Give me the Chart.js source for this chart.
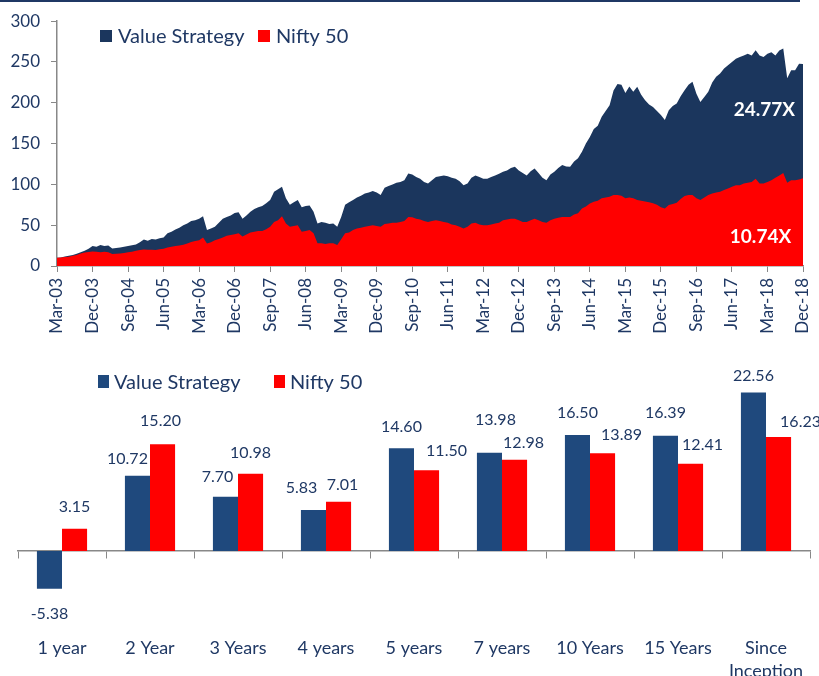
<!DOCTYPE html>
<html>
<head>
<meta charset="utf-8">
<script src="https://cdn.jsdelivr.net/npm/chart.js@4"></script>
<style>
  html, body { margin: 0; padding: 0; background: #fff; overflow: hidden; }
  #topRule { position: absolute; left: 0; top: 0; width: 800px; height: 2px; background: #1f3864; }
  #growthBox { position: absolute; left: 0; top: 0; width: 819px; height: 345px; }
  #returnsBox { position: absolute; left: 0; top: 345px; width: 819px; height: 345px; }
</style>
</head>
<body>
<div id="growthBox"><canvas id="growthChart"></canvas></div>
<div id="returnsBox"><canvas id="returnsChart"></canvas></div>
<div id="topRule"></div>
<script>
// growth of 10 invested, monthly, Mar-03 .. Dec-18
const vsGrowth = [
  10, 10.5, 11.5, 12.6, 13.5, 15, 17, 18.7, 21, 24.4,
  23.5, 25.6, 24.5, 25, 21.5, 22, 22.8, 23.5, 24.4, 25.5,
  26.4, 29, 32.5, 31, 33, 32.5, 34, 35, 40, 42,
  44.7, 47, 50, 52, 55.3, 56, 58, 61, 44, 46,
  48, 53, 58, 60, 62, 65, 66, 58, 62, 66.5,
  70, 72, 73.5, 77, 81, 91, 94, 97, 83, 75,
  78, 81, 72, 73.5, 74, 66.5, 52, 54, 53, 51.4,
  52, 48, 60, 75, 78, 81, 84, 86, 89, 90,
  92, 90, 87, 96, 98, 100, 102, 103, 105, 113.5,
  112, 109, 107, 103, 101, 105, 109, 110, 111, 110,
  108, 107, 104, 99, 101, 108, 111, 109, 107, 107,
  109, 111, 113, 115.5, 117, 120, 121.6, 117, 114, 111,
  116, 119.6, 114, 108, 105, 112, 115.5, 120, 123.7, 122,
  121.6, 128, 132, 140, 150, 158, 168, 172, 183, 190,
  197, 215, 223, 222, 212, 220, 213.5, 219.6, 210, 203,
  198, 195, 190, 185, 179, 191, 196, 199, 208, 215.5,
  222, 225.7, 211, 201, 207, 213.5, 225, 232, 236, 242,
  246, 250, 254, 256, 258, 260, 258, 264.5, 258, 256,
  260, 262, 258, 264, 266.5, 230, 240, 240, 248, 247.7
];
const niftyGrowth = [
  10, 10.3, 11, 11.4, 12.5, 13.5, 15.4, 16.5, 17.2, 17.9,
  17.5, 17, 17.4, 16.7, 14.6, 15, 15.4, 16, 16.7, 17.5,
  18.7, 19.5, 20.3, 19.8, 20, 19.5, 20.5, 21, 22.8, 23.5,
  24.4, 25.2, 26, 27.5, 29.3, 30.5, 31.7, 35, 27.6, 29,
  31.7, 33, 35, 37, 38, 39, 40, 36, 38.5, 41,
  42, 43, 43, 45, 48, 54, 56, 61, 52, 48,
  49, 50, 42, 43, 44, 40, 28, 28, 27, 28,
  28, 25.7, 32.7, 40, 41, 44, 46, 47, 48, 49,
  50, 49, 48, 51.4, 52, 53, 53, 54, 55, 60,
  59.6, 58, 57, 55, 54, 55, 56, 55, 54, 53,
  51, 50, 48, 46, 48, 52, 53, 51, 50, 50,
  51, 52, 53, 56, 57, 58, 58, 56, 54, 54,
  56, 58, 56, 54, 53, 56, 58, 59, 60, 60,
  60, 63, 64.5, 70.6, 73, 76.7, 78.8, 80, 83, 84,
  85, 87, 87, 86, 83, 84, 83, 81, 80, 79,
  78, 77, 75, 72, 70.6, 74.7, 76, 77.5, 82, 85.7,
  87, 87, 83, 81, 84, 87, 89, 90, 91, 93,
  95, 97, 99, 99, 101, 102, 103, 107, 101, 101,
  103, 105, 108, 111, 114, 102, 105, 105, 106, 107.4
];
const dateTicks = ['Mar-03', 'Dec-03', 'Sep-04', 'Jun-05', 'Mar-06', 'Dec-06', 'Sep-07', 'Jun-08',
  'Mar-09', 'Dec-09', 'Sep-10', 'Jun-11', 'Mar-12', 'Dec-12', 'Sep-13', 'Jun-14', 'Mar-15',
  'Dec-15', 'Sep-16', 'Jun-17', 'Mar-18', 'Dec-18'];
const endMultiples = ['24.77X', '10.74X'];

// annualised returns (%)
const periods = ['1 year', '2 Year', '3 Years', '4 years', '5 years', '7 years', '10 Years', '15 Years', ['Since', 'Inception']];
const vsReturns = [-5.38, 10.72, 7.70, 5.83, 14.60, 13.98, 16.50, 16.39, 22.56];
const niftyReturns = [3.15, 15.20, 10.98, 7.01, 11.50, 12.98, 13.89, 12.41, 16.23];

const navy = '#1b365d';
const barNavy = '#1f497d';
const red = '#ff0000';
const textNavy = '#1f3864';
const axisGrey = '#888888';
const fontFam = 'Lato, "Open Sans", sans-serif';

// legend drawn inside the plot, items placed at fixed x
const boxLegend = {
  id: 'boxLegend',
  afterDraw(chart, args, opts) {
    const ctx = chart.ctx;
    ctx.save();
    ctx.font = opts.font;
    ctx.textBaseline = 'middle';
    ctx.textAlign = 'left';
    opts.items.forEach((item, i) => {
      const x = opts.xs[i];
      ctx.fillStyle = item.color;
      ctx.fillRect(x, opts.y - opts.boxH / 2, opts.boxW, opts.boxH);
      ctx.fillStyle = textNavy;
      ctx.fillText(item.text, x + opts.boxW + opts.gap, opts.y + 1);
    });
    ctx.restore();
  }
};

const endTags = {
  id: 'endTags',
  afterDatasetsDraw(chart, args, opts) {
    if (!opts.tags) return;
    const {ctx, scales: {x, y}} = chart;
    ctx.save();
    ctx.font = opts.font;
    ctx.fillStyle = '#ffffff';
    ctx.textAlign = 'right';
    ctx.textBaseline = 'middle';
    opts.tags.forEach(t => ctx.fillText(t.text, x.getPixelForValue(t.x), y.getPixelForValue(t.y)));
    ctx.restore();
  }
};

const barValues = {
  id: 'barValues',
  afterDatasetsDraw(chart, args, opts) {
    if (!opts.nudges) return;
    const ctx = chart.ctx;
    ctx.save();
    ctx.font = opts.font;
    ctx.fillStyle = textNavy;
    ctx.textAlign = 'center';
    ctx.textBaseline = 'middle';
    chart.data.datasets.forEach((ds, di) => {
      chart.getDatasetMeta(di).data.forEach((bar, i) => {
        const v = ds.data[i];
        const n = opts.nudges[di][i];
        const y = v >= 0 ? bar.y - opts.gap : bar.y + opts.gap;
        ctx.fillText(v.toFixed(2), bar.x + n[0], y + n[1]);
      });
    });
    ctx.restore();
  }
};

const growthChart = new Chart(document.getElementById('growthChart').getContext('2d'), {
  type: 'line',
  data: {
    datasets: [{
      label: 'Value Strategy',
      data: vsGrowth.map((v, i) => ({x: i, y: v})),
      backgroundColor: navy,
      borderWidth: 0,
      pointRadius: 0,
      fill: 'origin',
      tension: 0,
      order: 2
    }, {
      label: 'Nifty 50',
      data: niftyGrowth.map((v, i) => ({x: i, y: v})),
      backgroundColor: red,
      borderWidth: 0,
      pointRadius: 0,
      fill: 'origin',
      tension: 0,
      order: 1
    }]
  },
  options: {
    responsive: true,
    maintainAspectRatio: false,
    animation: false,
    layout: { padding: { top: 21, right: 16, left: 0, bottom: 0 } },
    plugins: {
      legend: { display: false },
      tooltip: { enabled: false },
      boxLegend: {
        font: '20px ' + fontFam,
        items: [{text: 'Value Strategy', color: navy}, {text: 'Nifty 50', color: red}],
        xs: [100, 258], y: 36, boxW: 12, boxH: 12, gap: 6
      },
      endTags: {
        font: 'bold 19px ' + fontFam,
        tags: [{text: endMultiples[0], x: 187, y: 191}, {text: endMultiples[1], x: 186, y: 35.5}]
      }
    },
    scales: {
      x: {
        type: 'linear',
        min: 0,
        max: vsGrowth.length - 1,
        grid: { drawOnChartArea: false, drawTicks: true, tickLength: 6, color: axisGrey },
        border: { color: axisGrey, width: 1.5 },
        ticks: {
          stepSize: 9,
          autoSkip: false,
          minRotation: 90,
          maxRotation: 90,
          padding: 6,
          color: textNavy,
          font: { family: fontFam, size: 17 },
          callback: v => dateTicks[v / 9]
        },
        afterFit(scale) {
          scale.height = 345 - 266;
          scale.paddingLeft = 0;
          scale.paddingRight = 0;
        }
      },
      y: {
        min: 0,
        max: 300,
        grid: { drawOnChartArea: false, drawTicks: true, tickLength: 6, color: axisGrey },
        border: { color: axisGrey, width: 1.5 },
        ticks: {
          stepSize: 50,
          padding: 11,
          color: textNavy,
          font: { family: fontFam, size: 17 }
        },
        afterFit(scale) { scale.width = 57; }
      }
    }
  },
  plugins: [boxLegend, endTags]
});

const returnsChart = new Chart(document.getElementById('returnsChart').getContext('2d'), {
  type: 'bar',
  data: {
    labels: periods,
    datasets: [{
      label: 'Value Strategy',
      data: vsReturns,
      backgroundColor: barNavy,
      categoryPercentage: 0.57,
      barPercentage: 1.0
    }, {
      label: 'Nifty 50',
      data: niftyReturns,
      backgroundColor: red,
      categoryPercentage: 0.57,
      barPercentage: 1.0
    }]
  },
  options: {
    responsive: true,
    maintainAspectRatio: false,
    animation: false,
    layout: { padding: { top: 23.2, right: 9, left: 18, bottom: 0 } },
    plugins: {
      legend: { display: false },
      tooltip: { enabled: false },
      boxLegend: {
        font: '20px ' + fontFam,
        items: [{text: 'Value Strategy', color: barNavy}, {text: 'Nifty 50', color: red}],
        xs: [98, 274], y: 36.5, boxW: 11, boxH: 13, gap: 5
      },
      barValues: {
        font: '16px ' + fontFam,
        gap: 20,
        nudges: [
          [[0, 5], [-10, 3], [-8, 0], [-12, -2], [0, -2], [6, -13], [0, -2], [0, -3], [0, 3]],
          [[0, -2], [-2, -3], [0, -1], [4, 3], [20, 1], [9, 3], [19, 2], [12, 1], [22, 5]]
        ]
      }
    },
    scales: {
      x: {
        type: 'category',
        position: { y: 0 },
        offset: true,
        grid: { offset: true, drawOnChartArea: false, drawTicks: true, tickLength: 7, color: axisGrey },
        border: { color: axisGrey, width: 1.5 },
        ticks: { display: false }
      },
      x2: {
        type: 'category',
        position: 'bottom',
        offset: true,
        grid: { display: false, drawTicks: false },
        border: { display: false },
        ticks: {
          autoSkip: false,
          maxRotation: 0,
          padding: 15,
          color: textNavy,
          font: { family: fontFam, size: 18, lineHeight: 1.28 }
        },
        afterFit(scale) {
          scale.height = 345 - 276.3;
          scale.paddingLeft = 0;
          scale.paddingRight = 0;
        }
      },
      y: { display: false, min: -10, max: 26 }
    }
  },
  plugins: [boxLegend, barValues]
});
</script>
</body>
</html>
